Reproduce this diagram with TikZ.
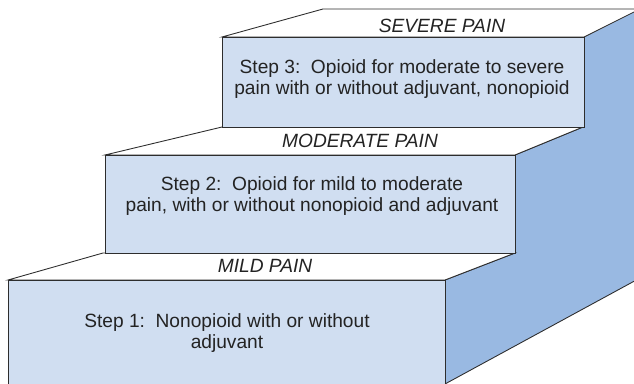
\documentclass[tikz,border=0pt]{standalone}
\usepackage{fontspec}
\setmainfont{Liberation Sans}

\definecolor{frontblue}{RGB}{208,222,241}
\definecolor{sideblue}{RGB}{153,185,226}
\definecolor{edgegray}{RGB}{45,45,45}
\definecolor{textgray}{RGB}{35,35,35}

\begin{document}
\begin{tikzpicture}[
    x = 0.02cm, % one unit per pixel
    y = -0.02cm, % y runs downwards
    line join = miter,
    semithick % line style
    ]

    \tikzset{
    face/.style = {draw = edgegray, line width = 0.5pt},
    painlabel/.style = {font = \fontsize{10.9}{11.8}\selectfont\itshape, text = textgray, inner sep = 0pt},
    steptext/.style = {font = \fontsize{10.9}{11.8}\selectfont, text = textgray, align = center, inner sep = 0pt}
    }

    \useasboundingbox (0,0) rectangle (634,384);
    \clip (0,0) rectangle (634,384);

    % side of the stairs
    \path[face, fill = sideblue] (584,37) -- (640,8) -- (640,278) -- (445,384) -- (445,400)
        -- (445,280) -- (515,253) -- (515,155) -- (583,127) -- cycle;

    % step 1
    \path[face, fill = white] (8,280) -- (103,253) -- (515,253) -- (445,280) -- cycle;
    \path[face, fill = frontblue] (8,280) rectangle (445,400);

    % step 2
    \path[face, fill = white] (105,155) -- (222,127) -- (583,127) -- (515,155) -- cycle;
    \path[face, fill = frontblue] (105,155) rectangle (515,253);

    % step 3
    \path[face, fill = white] (222,37) -- (323,9) -- (640,9) -- (584,37) -- cycle;
    \path[face, fill = frontblue] (222,37) rectangle (584,127);

    \node[painlabel] (severe) at (442,26) {SEVERE PAIN};
    \node[steptext] (step3) at (402,79) {Step 3:\ \ Opioid for moderate to severe\\pain with or without adjuvant, nonopioid};

    \node[painlabel] (moderate) at (360,141) {MODERATE PAIN};
    \node[steptext] (step2) at (312,196) {Step 2:\ \ Opioid for mild to moderate\\pain, with or without nonopioid and adjuvant};

    \node[painlabel] (mild) at (265,266) {MILD PAIN};
    \node[steptext] (step1) at (227,333) {Step 1:\ \ Nonopioid with or without\\adjuvant};
\end{tikzpicture}
\end{document}
